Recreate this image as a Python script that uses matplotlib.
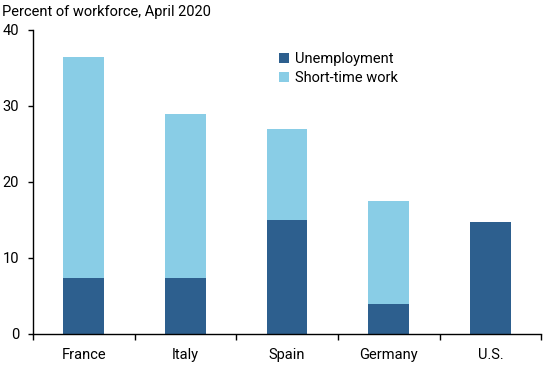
import numpy as np
import matplotlib.pyplot as plt

plt.rcParams['font.family'] = ['Roboto', 'DejaVu Sans']

countries = ["France", "Italy", "Spain", "Germany", "U.S."]
unemployment = [7.3, 7.4, 15.0, 4.0, 14.7]
short_time = [29.1, 21.5, 12.0, 13.5, 0.0]

dark = "#2D5F8E"
light = "#89CDE6"

fig = plt.figure(figsize=(5.5, 3.65), dpi=100)
ax = fig.add_axes([0.06, 0.085, 0.924, 0.833])

x = np.arange(len(countries))
ax.bar(x, unemployment, width=0.4, color=dark, label="Unemployment")
ax.bar(x, short_time, width=0.4, bottom=unemployment, color=light, label="Short-time work")

ax.set_xlim(-0.5, len(countries) - 0.5)
ax.set_ylim(0, 40)
ax.set_yticks([0, 10, 20, 30, 40])
ax.set_xticks(x)
ax.set_xticklabels(countries)
ax.set_xticks(np.arange(-0.5, len(countries)), minor=True)
ax.tick_params(axis='x', which='major', length=0, labelsize=10.5, pad=10)
ax.tick_params(axis='x', which='minor', length=4, width=1)
ax.tick_params(axis='y', length=3.5, width=1, labelsize=10.5, pad=6.5)

for s in ["top", "right"]:
    ax.spines[s].set_visible(False)
for s in ["left", "bottom"]:
    ax.spines[s].set_linewidth(1)

ax.legend(loc="upper left", bbox_to_anchor=(0.458, 0.97), frameon=False,
          handlelength=0.7, handleheight=0.7, handletextpad=0.4,
          labelspacing=0.35, fontsize=10.5)

fig.text(0.004, 0.985, "Percent of workforce, April 2020", ha="left", va="top", fontsize=10.5)

fig.savefig("out.png", dpi=100)
